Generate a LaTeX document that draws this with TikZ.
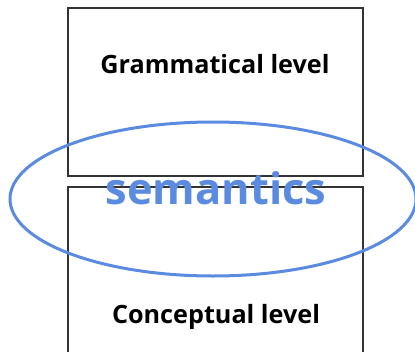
\documentclass[tikz,border=0pt]{standalone}
\usepackage{fontspec}
\setmainfont{Open Sans}
\definecolor{semblue}{HTML}{5B8BE0}
\definecolor{boxline}{HTML}{333333}
\tikzset{
  x=1pt, y=-1pt,
  levelbox/.style={draw=boxline, line width=1.1pt},
  leveltext/.style={font=\bfseries\fontsize{25.2}{28}\selectfont, text=black, inner sep=0pt, anchor=base},
  semtext/.style={font=\bfseries\fontsize{43.4}{46}\selectfont, text=semblue, inner sep=0pt, anchor=base},
}
\begin{document}
\begin{tikzpicture}
\useasboundingbox (0,0) rectangle (415,351);
\clip (0,0) rectangle (415,351);
\fill[white] (0,0) rectangle (415,351);
\draw[levelbox] (68,8) rectangle (363,176);
\draw[levelbox] (68,360) |- (363,187) -- (363,360);
\node[leveltext] (gram) at (215,73) {Grammatical level};
\node[leveltext] (conc) at (216,323) {Conceptual level};
\node[semtext] (sem) at (216,204) {semantics};
\draw[semblue, line width=3pt] (213,199) ellipse [x radius=203, y radius=77];
\end{tikzpicture}
\end{document}
